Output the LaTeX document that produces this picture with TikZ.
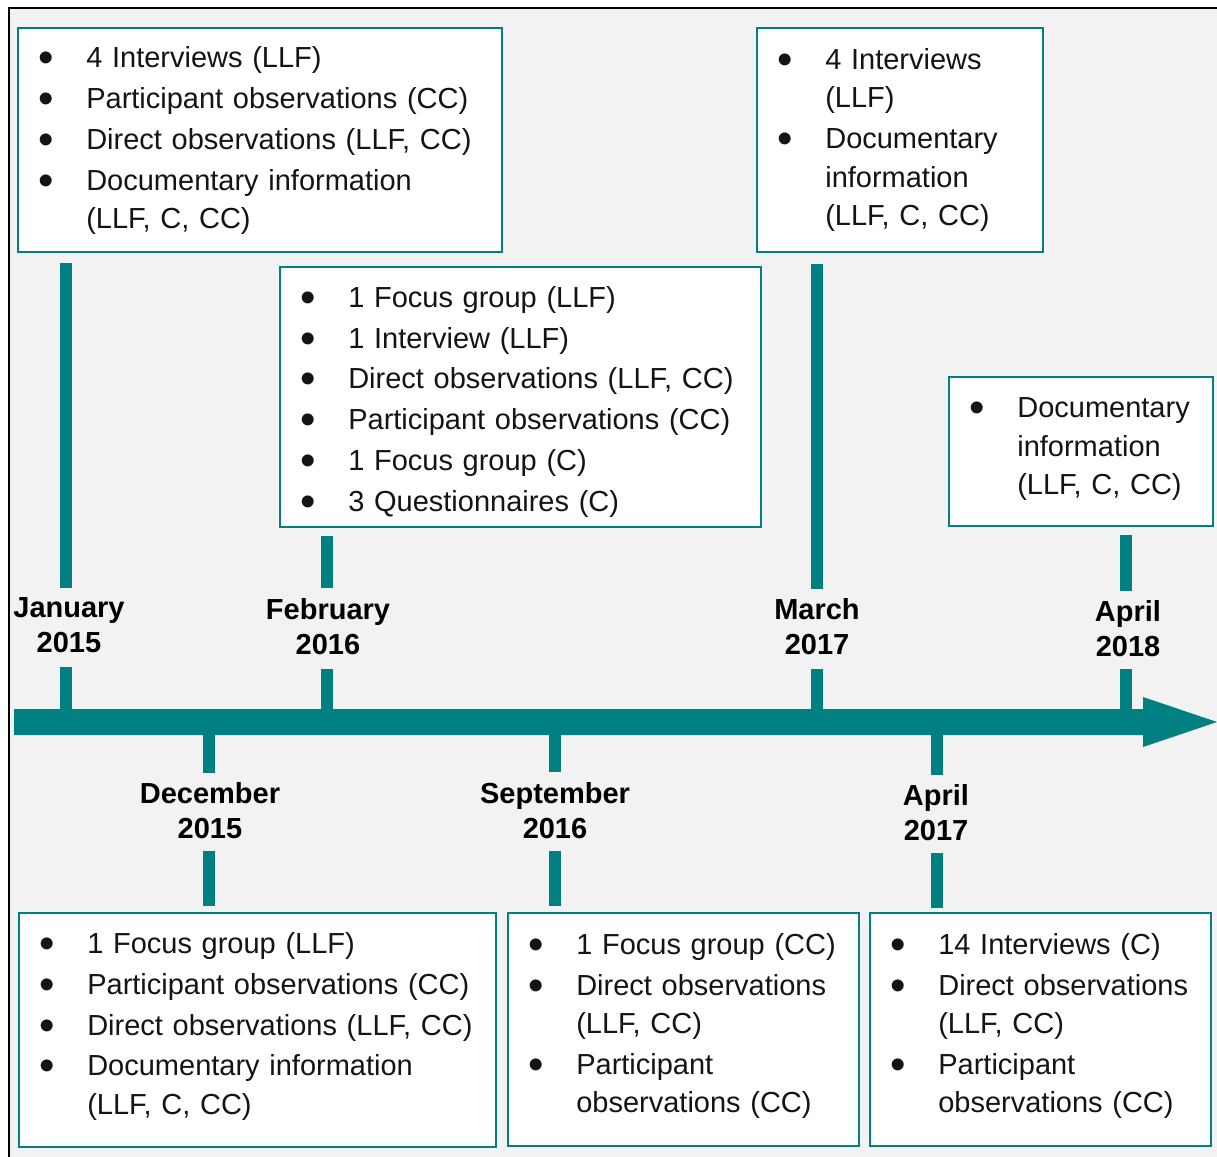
\documentclass[tikz,border=0pt]{standalone}
\usepackage{fontspec}
\setmainfont{Liberation Sans}
\usepackage{array}
\definecolor{tealc}{RGB}{0,128,128}
\definecolor{bgc}{RGB}{242,242,242}
\definecolor{inkc}{RGB}{20,20,20}

% large round bullet, lowered to sit at cap-height centre
\newcommand{\bul}{\raisebox{-5pt}{\fontsize{44}{0}\selectfont\textbullet}}
% tighter step before a wrapped continuation line
\newcommand{\wrapnl}{\\[-2.3pt]}
% bullet list laid out as a two-column table
\newcommand{\blist}[1]{%
  \begin{tabular}{@{\hspace{20.3pt}}p{48pt}@{}l@{}}#1\end{tabular}}

\tikzset{
  listbox/.style={draw=tealc, line width=2pt, fill=white, anchor=north west,
    inner xsep=0pt, inner ysep=0pt, align=left, text=inkc,
    font=\fontsize{29}{40.8}\selectfont},
  datelabel/.style={align=center, inner xsep=0pt, inner ysep=10pt,
    font=\fontsize{29}{35}\selectfont\bfseries, text=black},
  tick/.style={draw=tealc, line width=12pt}
}

\begin{document}
\begin{tikzpicture}[x=1pt, y=-1pt]
\useasboundingbox (0,0) rectangle (1217,1156);
% page frame
\fill[white] (0,0) rectangle (1217,1156);
\filldraw[fill=bgc, draw=black, line width=2pt] (8.5,8.5) rectangle (1240,1180);

% upper list boxes
\node[listbox, text width=484pt, minimum height=224pt] (b1) at (17,27) {\blist{%
  \bul & 4 Interviews (LLF)\\
  \bul & Participant observations (CC)\\
  \bul & Direct observations (LLF, CC)\\
  \bul & Documentary information\wrapnl
       & (LLF, C, CC)}};
\node[listbox, text width=481pt, minimum height=260pt] (b2) at (279,266) {\blist{%
  \bul & 1 Focus group (LLF)\\
  \bul & 1 Interview (LLF)\\
  \bul & Direct observations (LLF, CC)\\
  \bul & Participant observations (CC)\\
  \bul & 1 Focus group (C)\\
  \bul & 3 Questionnaires (C)\\[-8.4pt]}};
\node[listbox, text width=286pt, minimum height=224pt] (b3) at (756,27) {\blist{%
  \bul & 4 Interviews\wrapnl
       & (LLF)\\
  \bul & Documentary\wrapnl
       & information\wrapnl
       & (LLF, C, CC)\\[1.5pt]}};
\node[listbox, text width=264pt, minimum height=149pt] (b4) at (948,376) {\blist{%
  \bul & Documentary\wrapnl
       & information\wrapnl
       & (LLF, C, CC)\\[7pt]}};

% lower list boxes
\node[listbox, text width=477pt, minimum height=234pt] (b5) at (18,912) {\blist{%
  \bul & 1 Focus group (LLF)\\
  \bul & Participant observations (CC)\\
  \bul & Direct observations (LLF, CC)\\
  \bul & Documentary information\wrapnl
       & (LLF, C, CC)\\[8.6pt]}};
\node[listbox, text width=351pt, minimum height=233pt] (b6) at (507,912) {\blist{%
  \bul & 1 Focus group (CC)\\
  \bul & Direct observations\wrapnl
       & (LLF, CC)\\
  \bul & Participant\wrapnl
       & observations (CC)\\[8pt]}};
\node[listbox, text width=341pt, minimum height=233pt] (b7) at (869,912) {\blist{%
  \bul & 14 Interviews (C)\\
  \bul & Direct observations\wrapnl
       & (LLF, CC)\\
  \bul & Participant\wrapnl
       & observations (CC)\\[8pt]}};

% points on the time axis
\coordinate (tJan) at (66,722);
\coordinate (tDec) at (209,722);
\coordinate (tFeb) at (327,722);
\coordinate (tSep) at (555,722);
\coordinate (tMar) at (817,722);
\coordinate (tApr) at (937,722);
\coordinate (tApr18) at (1126,722);

% date labels
\node[datelabel] (dJan) at (69,625.5) {January\\2015};
\node[datelabel] (dFeb) at (328,626.5) {February\\2016};
\node[datelabel] (dMar) at (817,627) {March\\2017};
\node[datelabel] (dApr18) at (1128,629) {April\\2018};
\node[datelabel] (dDec) at (210,811) {December\\2015};
\node[datelabel] (dSep) at (555,810.5) {September\\2016};
\node[datelabel] (dApr) at (936,813) {April\\2017};

% connectors above the axis
\draw[tick, shorten <=10pt] (b1.south -| tJan) -- (dJan.north -| tJan);
\draw[tick] (dJan.south -| tJan) ++(0,4) -- (tJan);
\draw[tick, shorten <=8pt] (b2.south -| tFeb) -- (dFeb.north -| tFeb);
\draw[tick] (dFeb.south -| tFeb) ++(0,4) -- (tFeb);
\draw[tick, shorten <=11pt] (b3.south -| tMar) -- (dMar.north -| tMar);
\draw[tick] (dMar.south -| tMar) ++(0,4) -- (tMar);
\draw[tick, shorten <=8pt] (b4.south -| tApr18) -- (dApr18.north -| tApr18);
\draw[tick] (dApr18.south -| tApr18) ++(0,2) -- (tApr18);

% connectors below the axis
\draw[tick] (tDec) -- (dDec.north -| tDec);
\draw[tick, shorten >=6pt] (dDec.south -| tDec) ++(0,2) -- (b5.north -| tDec);
\draw[tick] (tSep) -- (dSep.north -| tSep);
\draw[tick, shorten >=6pt] (dSep.south -| tSep) ++(0,2) -- (b6.north -| tSep);
\draw[tick] (tApr) -- (dApr.north -| tApr);
\draw[tick, shorten >=4pt] (dApr.south -| tApr) ++(0,2) -- (b7.north -| tApr);

% time axis with arrow head
\coordinate (axL) at (14,722);
\coordinate (axR) at (1217,722);
\fill[tealc] (axL) ++(0,-13) -- (1143,709) -- (1143,697) -- (axR)
  -- (1143,747) -- (1143,735) -- (14,735) -- cycle;
\end{tikzpicture}
\end{document}
